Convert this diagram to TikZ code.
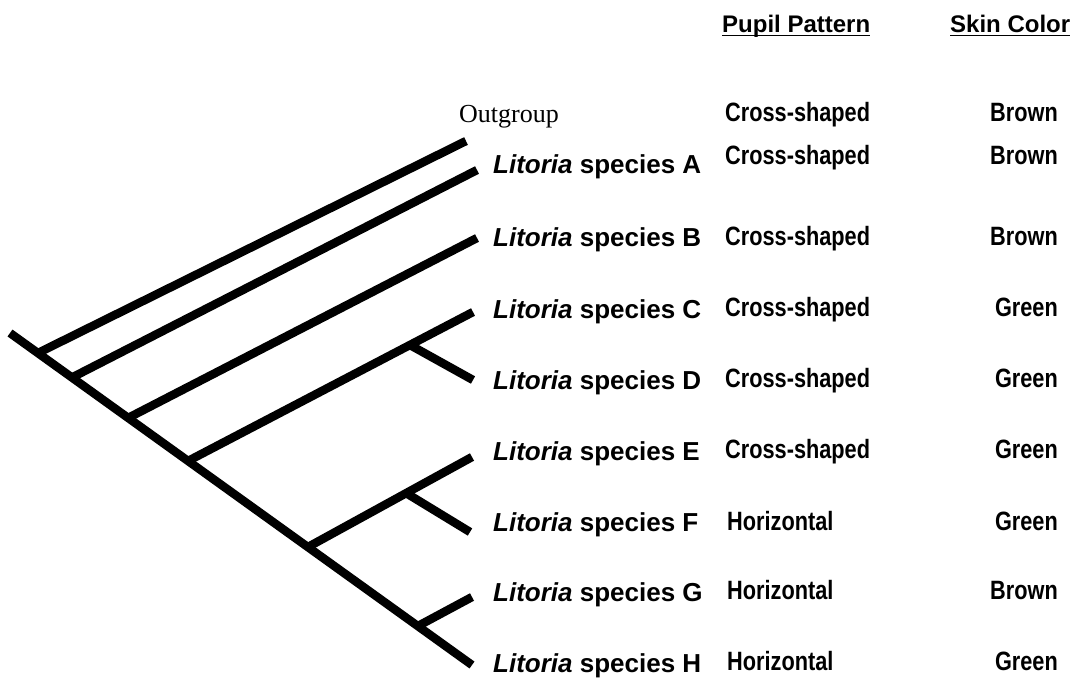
\documentclass[tikz,border=0pt]{standalone}
\usepackage{fontspec}
\setmainfont{Liberation Sans}
\newfontfamily\serifrm{Liberation Serif}
\newfontfamily\narrowsf[FakeStretch=0.82]{Liberation Sans}
\begin{document}
\begin{tikzpicture}[x=1pt,y=-1pt,
  branch/.style={line width=8.5pt,line cap=butt},
  taxon/.style={anchor=base west,inner sep=0pt,font=\fontsize{26}{30}\selectfont\bfseries},
  trait/.style={anchor=base west,inner sep=0pt,font=\fontsize{26.5}{30}\selectfont\narrowsf\bfseries},
  colour/.style={anchor=base east,inner sep=0pt,font=\fontsize{26.5}{30}\selectfont\narrowsf\bfseries},
  header/.style={anchor=base west,inner sep=0pt,font=\fontsize{24}{28}\selectfont\bfseries}]
\useasboundingbox (0,0) rectangle (1074,681);

% column headers
\node[header] (pupil) at (722,32) {Pupil Pattern};
\node[header] (skin) at (950,32) {Skin Color};
\draw[line width=1.5pt] ([yshift=-3.5pt]pupil.base west) -- ([yshift=-3.5pt]pupil.base east);
\draw[line width=1.5pt] ([yshift=-3.5pt]skin.base west) -- ([yshift=-3.5pt]skin.base east);

% tree: backbone and its nodes
\coordinate (root) at (10,333);
\coordinate (nO) at (38,353);
\coordinate (nA) at (72,377.5);
\coordinate (nB) at (128,418);
\coordinate (nCDE) at (188,461);
\coordinate (nEF) at (308,547);
\coordinate (nGH) at (418,626);
\coordinate (nCD) at (410,345);
\coordinate (nF) at (406,493);
% tips
\coordinate (tO) at (466,141);
\coordinate (tA) at (477,170);
\coordinate (tB) at (477,238);
\coordinate (tC) at (473,312);
\coordinate (tD) at (473,380);
\coordinate (tE) at (472,457);
\coordinate (tF) at (470,532);
\coordinate (tG) at (472,597);
\coordinate (tH) at (472,665);

\draw[branch] (root) -- (tH);
\draw[branch] (nO) -- (tO);
\draw[branch] (nA) -- (tA);
\draw[branch] (nB) -- (tB);
\draw[branch] (nCDE) -- (tC);
\draw[branch] (nCD) -- (tD);
\draw[branch] (nEF) -- (tE);
\draw[branch] (nF) -- (tF);
\draw[branch] (nGH) -- (tG);

% taxon labels
\node[anchor=base west,inner sep=0pt,font=\fontsize{26}{30}\selectfont\serifrm] (lO) at (459,122) {Outgroup};
\node[taxon] (lA) at (493,173) {\itshape Litoria\upshape{} species A};
\node[taxon] (lB) at (493,246) {\itshape Litoria\upshape{} species B};
\node[taxon] (lC) at (493,318) {\itshape Litoria\upshape{} species C};
\node[taxon] (lD) at (493,389) {\itshape Litoria\upshape{} species D};
\node[taxon] (lE) at (493,460) {\itshape Litoria\upshape{} species E};
\node[taxon] (lF) at (493,531) {\itshape Litoria\upshape{} species F};
\node[taxon] (lG) at (493,601) {\itshape Litoria\upshape{} species G};
\node[taxon] (lH) at (493,672) {\itshape Litoria\upshape{} species H};

% pupil pattern column
\node[trait] (pO) at (725,121) {Cross-shaped};
\node[trait] (pA) at (725,164) {Cross-shaped};
\node[trait] (pB) at (725,245) {Cross-shaped};
\node[trait] (pC) at (725,316) {Cross-shaped};
\node[trait] (pD) at (725,387) {Cross-shaped};
\node[trait] (pE) at (725,458) {Cross-shaped};
\node[trait] (pF) at (727,530) {Horizontal};
\node[trait] (pG) at (727,599) {Horizontal};
\node[trait] (pH) at (727,670) {Horizontal};

% skin colour column
\node[colour] (sO) at (1058,121) {Brown};
\node[colour] (sA) at (1058,164) {Brown};
\node[colour] (sB) at (1058,245) {Brown};
\node[colour] (sC) at (1058,316) {Green};
\node[colour] (sD) at (1058,387) {Green};
\node[colour] (sE) at (1058,458) {Green};
\node[colour] (sF) at (1058,530) {Green};
\node[colour] (sG) at (1058,599) {Brown};
\node[colour] (sH) at (1058,670) {Green};
\end{tikzpicture}
\end{document}
